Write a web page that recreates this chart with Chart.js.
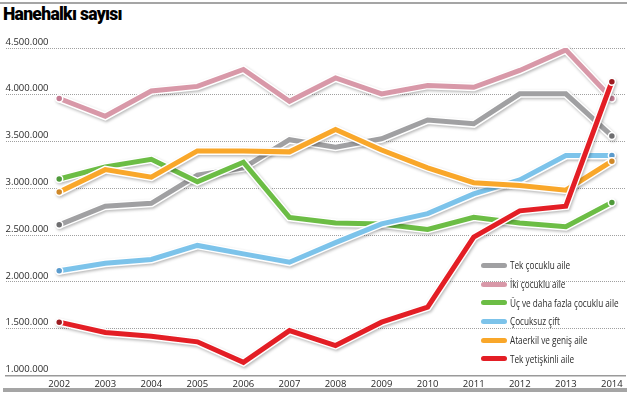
<!DOCTYPE html>
<html>
<head>
<meta charset="utf-8">
<script src="https://cdn.jsdelivr.net/npm/chart.js@4.4.1/dist/chart.umd.min.js"></script>
<style>
  body { margin: 0; background: #fff; }
  #wrap { position: relative; width: 631px; height: 396px; overflow: hidden; }
  #chart { position: absolute; left: 0; top: 0; }
  .bar { position: absolute; background: #a5a5a5; }
  #title { position: absolute; left: 3px; top: 4px; font: 900 17.5px Roboto, sans-serif; letter-spacing: -0.7px; color: #000; }
  #legend { position: absolute; left: 481px; top: 256px; font: 10.5px "Open Sans", sans-serif; color: #2a2a2a; }
  .item { height: 18.7px; display: flex; align-items: center; white-space: nowrap; }
  .swatch { width: 26px; height: 5px; border-radius: 3px; margin-right: 3px; flex: none; }
  .txt { display: inline-block; transform: scaleX(0.78); transform-origin: left center; }
</style>
</head>
<body>
<div id="wrap">
  <div class="bar" style="left:0;top:2px;width:627px;height:2px"></div>
  <div id="title">Hanehalkı sayısı</div>
  <canvas id="chart" width="631" height="396"></canvas>
  <div id="legend"></div>
  <div class="bar" style="left:3px;top:388px;width:624px;height:4px"></div>
</div>
<script>
// yıllar
var years = [2002, 2003, 2004, 2005, 2006, 2007, 2008, 2009, 2010, 2011, 2012, 2013, 2014];

var tekCocuklu   = [2610000, 2810000, 2840000, 3140000, 3220000, 3520000, 3440000, 3530000, 3730000, 3690000, 4010000, 4010000, 3560000];
var ikiCocuklu   = [3960000, 3770000, 4040000, 4090000, 4270000, 3930000, 4180000, 4010000, 4100000, 4080000, 4260000, 4480000, 3960000];
var ucVeFazla    = [3100000, 3230000, 3310000, 3070000, 3280000, 2690000, 2630000, 2620000, 2560000, 2690000, 2630000, 2590000, 2850000];
var cocuksuzCift = [2120000, 2200000, 2240000, 2390000, 2300000, 2210000, 2420000, 2620000, 2730000, 2940000, 3090000, 3350000, 3350000];
var ataerkil     = [2960000, 3200000, 3120000, 3400000, 3400000, 3390000, 3630000, 3410000, 3220000, 3060000, 3030000, 2980000, 3290000];
var tekYetiskin  = [1570000, 1460000, 1420000, 1360000, 1140000, 1480000, 1320000, 1570000, 1730000, 2480000, 2760000, 2810000, 4140000];

var yTicks = [1000000, 1500000, 2000000, 2500000, 3000000, 3500000, 4000000, 4500000];

var series = [
  { label: 'Tek çocuklu aile', data: tekCocuklu, color: '#a0a0a2', dot: '#6e6e70', order: 4 },
  { label: 'İki çocuklu aile', data: ikiCocuklu, color: '#d898a8', dot: '#c47b92', order: 5 },
  { label: 'Üç ve daha fazla çocuklu aile', data: ucVeFazla, color: '#6cbd45', dot: '#4f9a3a', order: 3 },
  { label: 'Çocuksuz çift', data: cocuksuzCift, color: '#7cc3ea', dot: '#5b9bcd', order: 2 },
  { label: 'Ataerkil ve geniş aile', data: ataerkil, color: '#f9a72a', dot: '#cf8829', order: 1 },
  { label: 'Tek yetişkinli aile', data: tekYetiskin, color: '#e31e25', dot: '#9b1b20', order: 0 }
];

function endsOnly(v) {
  return years.map(function (y, i) { return (i === 0 || i === years.length - 1) ? v : 0; });
}

var datasets = series.map(function (s) {
  return {
    label: s.label,
    data: s.data.map(function (v, i) { return { x: years[i], y: v }; }),
    borderColor: s.color,
    backgroundColor: s.color,
    borderWidth: 5,
    tension: 0,
    order: s.order,
    pointRadius: endsOnly(3.5),
    pointBackgroundColor: s.dot,
    pointBorderColor: '#fff',
    pointBorderWidth: 1.5
  };
});

// beyaz kontur + hafif gölge
var outline = {
  id: 'outline',
  beforeDatasetDraw: function (chart, args) {
    var pts = args.meta.data;
    var c = chart.ctx;
    c.save();
    c.beginPath();
    pts.forEach(function (p, i) { if (i === 0) c.moveTo(p.x, p.y); else c.lineTo(p.x, p.y); });
    c.strokeStyle = '#fff';
    c.lineWidth = 8;
    c.lineJoin = 'miter';
    c.lineCap = 'round';
    c.shadowColor = 'rgba(0,0,0,0.28)';
    c.shadowBlur = 3;
    c.shadowOffsetX = 1;
    c.shadowOffsetY = 1.5;
    c.stroke();
    c.restore();
  }
};

var ctx = document.getElementById('chart');

new Chart(ctx, {
  type: 'line',
  data: { datasets: datasets },
  plugins: [outline],
  options: {
    responsive: false,
    animation: false,
    layout: { padding: { left: 3, right: 4, top: 48, bottom: 0 } },
    plugins: { legend: { display: false }, tooltip: { enabled: false } },
    scales: {
      x: {
        type: 'linear',
        min: 2000.834,
        max: 2014.296,
        afterBuildTicks: function (s) { s.ticks = years.map(function (y) { return { value: y }; }); },
        afterFit: function (s) { s.height = 20.5; },
        grid: { display: false, drawTicks: false },
        border: { color: '#9a9a9a', width: 1.5 },
        ticks: {
          padding: 3,
          color: '#2a2a2a',
          font: { family: 'Open Sans', size: 9.5 },
          callback: function (v) { return String(v); },
          maxRotation: 0,
          autoSkip: false
        }
      },
      y: {
        min: 1000000,
        max: 4500000,
        afterBuildTicks: function (s) { s.ticks = yTicks.map(function (v) { return { value: v }; }); },
        afterFit: function (s) { s.width = 0; },
        border: { display: false, dash: [1, 1] },
        grid: { color: '#a0a0a0', lineWidth: 1, drawTicks: false },
        ticks: {
          mirror: true,
          padding: 0,
          labelOffset: -6,
          color: '#2a2a2a',
          font: { family: 'Open Sans', size: 9.5 },
          callback: function (v) { return v.toLocaleString('de-DE'); }
        }
      }
    }
  }
});

// lejant
var legend = document.getElementById('legend');
series.forEach(function (s) {
  var row = document.createElement('div');
  row.className = 'item';
  row.innerHTML = '<span class="swatch" style="background:' + s.color + '"></span><span class="txt">' + s.label + '</span>';
  legend.appendChild(row);
});
</script>
</body>
</html>
